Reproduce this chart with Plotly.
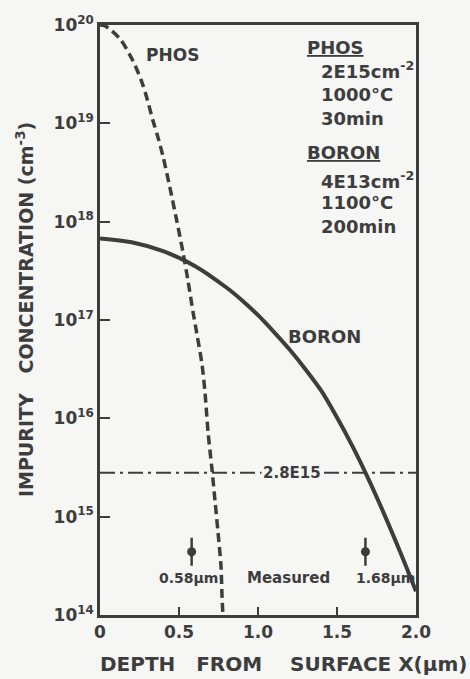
import plotly.graph_objects as go

# Phosphorus profile (dashed): depth in um, concentration in cm^-3
phos_x = [0.0, 0.032, 0.127, 0.209, 0.266, 0.297, 0.335, 0.367, 0.399, 0.443, 0.487,
          0.525, 0.557, 0.589, 0.614, 0.646, 0.665, 0.684, 0.709, 0.728, 0.747, 0.766,
          0.772, 0.778]
phos_y = [1.0e20, 9.8e19, 7.2e19, 4.3e19, 2.6e19, 1.8e19, 1.07e19, 7.2e18, 4.6e18,
          2.2e18, 1.0e18, 4.9e17, 2.5e17, 1.2e17, 7.1e16, 3.5e16, 1.8e16, 7.2e15,
          3.0e15, 1.45e15, 6.9e14, 3.1e14, 1.6e14, 1.0e14]

# Boron profile (solid)
boron_x = [0.0, 0.2, 0.4, 0.6, 0.8, 0.9, 1.0, 1.1, 1.2, 1.3, 1.4, 1.5, 1.6, 1.7,
           1.8, 1.9, 2.0]
boron_y = [6.76e17, 6.17e17, 5.01e17, 3.55e17, 2.14e17, 1.58e17, 1.12e17, 7.59e16,
           5.01e16, 3.16e16, 1.91e16, 1.02e16, 5.13e15, 2.40e15, 1.05e15, 4.37e14,
           1.74e14]

# Background level and measured junction depths
background_level = 2.8e15
measured_x = [0.58, 1.68]
measured_y = [4.4e14, 4.4e14]

x_ticks = [0, 0.5, 1.0, 1.5, 2.0]
x_tick_text = ["0", "0.5", "1.0", "1.5", "2.0"]
y_ticks = [1e14, 1e15, 1e16, 1e17, 1e18, 1e19, 1e20]
y_tick_text = ["10<sup>14</sup>", "10<sup>15</sup>", "10<sup>16</sup>", "10<sup>17</sup>",
               "10<sup>18</sup>", "10<sup>19</sup>", "10<sup>20</sup>"]

INK = "#3d3d3d"
PAPER = "#f6f6f4"
FONT = "DejaVu Sans"
NB = "\u00a0"

fig = go.Figure()

fig.add_trace(go.Scatter(
    x=[0, 2], y=[background_level, background_level], mode="lines",
    line=dict(color=INK, width=2, dash="15px,5px,3px,5px"), hoverinfo="skip"))

fig.add_trace(go.Scatter(
    x=phos_x, y=phos_y, mode="lines", line_shape="spline",
    line=dict(color=INK, width=3.5, dash="9px,5px", smoothing=0.8)))

fig.add_trace(go.Scatter(
    x=boron_x, y=boron_y, mode="lines", line_shape="spline",
    line=dict(color=INK, width=4, smoothing=0.8)))

# measured points: small dot with a short vertical bar
fig.add_trace(go.Scatter(
    x=measured_x, y=measured_y, mode="markers",
    marker=dict(symbol="line-ns", size=20, line=dict(color=INK, width=2.5))))
fig.add_trace(go.Scatter(
    x=measured_x, y=measured_y, mode="markers",
    marker=dict(symbol="circle", size=9, color=INK)))


def note(text, x, y, size=15, xanchor="center", bg=None):
    fig.add_annotation(x=x, y=y, xref="x", yref="y", text=f"<b>{text}</b>",
                       showarrow=False, xanchor=xanchor, yanchor="middle",
                       font=dict(family=FONT, color=INK, size=size),
                       bgcolor=bg, borderpad=1)


note("PHOS", 0.456, 19.69, size=17)
note("BORON", 1.424, 16.83, size=18)
note("2.8E15", 1.215, 15.447, size=15, bg=PAPER)

note("<u>PHOS</u>", 1.30, 19.776, size=18, xanchor="left")
note("2E15cm<sup>-2</sup>", 1.383, 19.54, size=18, xanchor="left")
note("1000°C", 1.383, 19.29, size=18, xanchor="left")
note("30min", 1.383, 19.05, size=18, xanchor="left")
note("<u>BORON</u>", 1.30, 18.70, size=18, xanchor="left")
note("4E13cm<sup>-2</sup>", 1.383, 18.42, size=18, xanchor="left")
note("1100°C", 1.383, 18.19, size=18, xanchor="left")
note("200min", 1.383, 17.95, size=18, xanchor="left")

note("0.58μm", 0.557, 14.376, size=14)
note("Measured", 1.19, 14.376, size=15)
note("1.68μm", 1.81, 14.376, size=14)

# axis titles
x_title = f"DEPTH{NB*3}FROM{NB*4}SURFACE{NB}X(μm)"
y_title = f"IMPURITY{NB*3}CONCENTRATION{NB}(cm<sup>-3</sup>)"
fig.add_annotation(x=0.582, y=-0.083, xref="paper", yref="paper", showarrow=False,
                   text=f"<b>{x_title}</b>",
                   font=dict(family=FONT, color=INK, size=20), xanchor="center", yanchor="middle")
fig.add_annotation(x=-0.237, y=0.517, xref="paper", yref="paper", showarrow=False,
                   text=f"<b>{y_title}</b>",
                   font=dict(family=FONT, color=INK, size=19), textangle=-90,
                   xanchor="center", yanchor="middle")

fig.update_layout(
    width=470, height=679,
    margin=dict(l=100, r=54, t=25, b=64),
    paper_bgcolor=PAPER, plot_bgcolor=PAPER,
    showlegend=False,
    font=dict(family=FONT, color=INK, size=15),
)
fig.update_xaxes(
    range=[0, 2], tickvals=x_ticks, ticktext=[f"<b>{t}</b>" for t in x_tick_text],
    showgrid=False, zeroline=False, showline=True, mirror=True,
    linecolor=INK, linewidth=2.5, ticks="inside", ticklen=8, tickwidth=2,
    tickcolor=INK, tickfont=dict(family=FONT, size=17, color=INK))
fig.update_yaxes(
    type="log", range=[14, 20], tickvals=y_ticks,
    ticktext=[f"<b>{t}</b>" for t in y_tick_text],
    showgrid=False, zeroline=False, showline=True, mirror=True,
    linecolor=INK, linewidth=2.5, ticks="inside", ticklen=10, tickwidth=2,
    tickcolor=INK, tickfont=dict(family=FONT, size=17, color=INK))

fig.write_html("out.html")
